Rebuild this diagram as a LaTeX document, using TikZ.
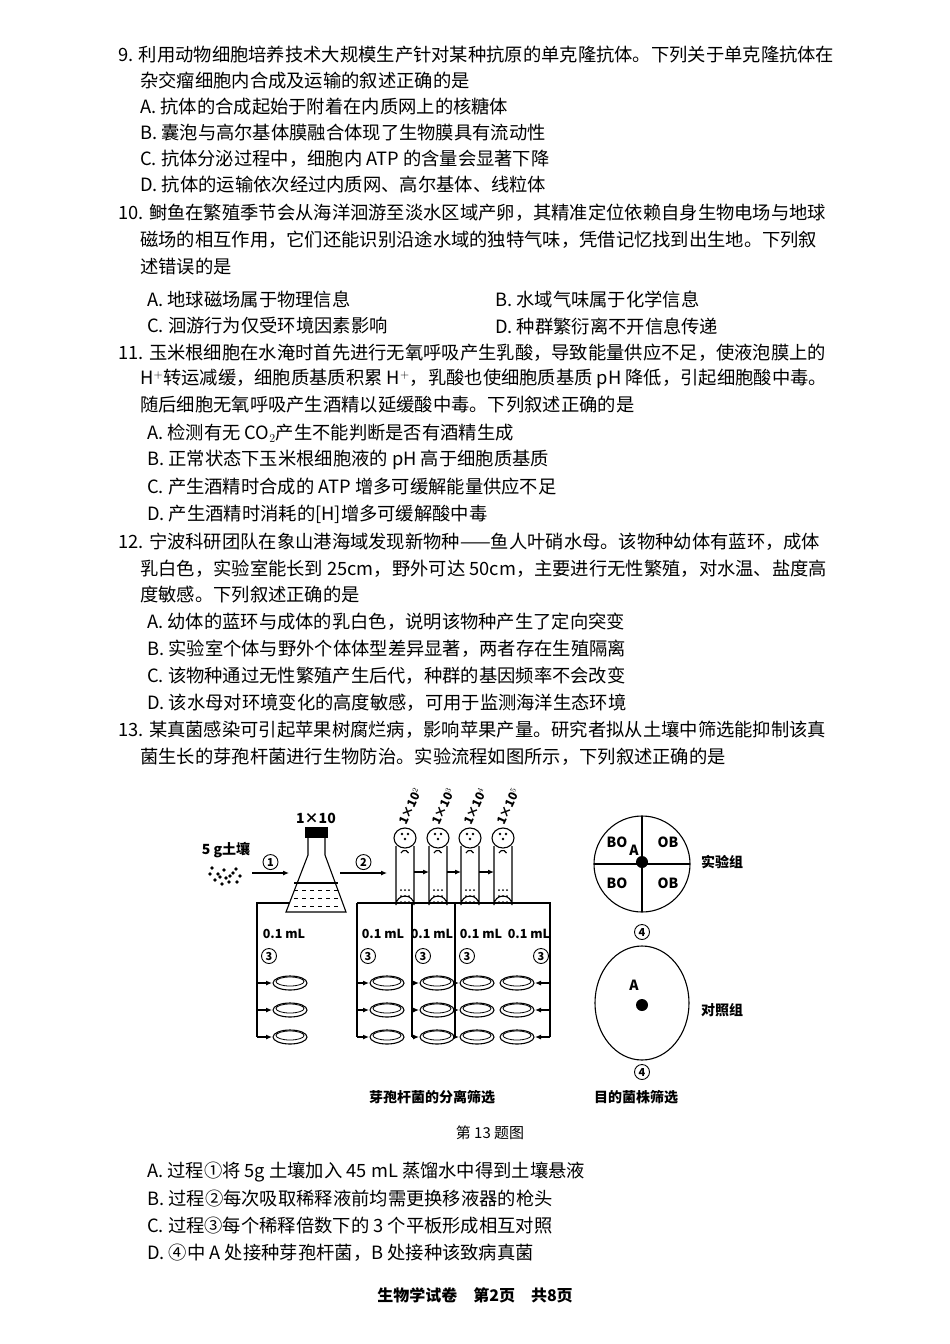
\documentclass[tikz,border=0pt]{standalone}
\usepackage{fontspec}
\setmainfont{Noto Sans CJK SC}
\usetikzlibrary{arrows.meta}
\tikzset{
  txt/.style={anchor=west, inner sep=0, font=\fontsize{18.3}{20}\selectfont},
  lb/.style={inner sep=0, font=\fontsize{14}{15}\selectfont\bfseries},
  cnum/.style={circle, draw, line width=0.9pt, inner sep=0.8pt, minimum size=15pt, font=\fontsize{11}{11}\selectfont\bfseries},
  plate/.style={draw, line width=1.1pt, x radius=17, y radius=7},
  ln/.style={line width=1.1pt},
  ar/.style={ln, -{Latex[length=6pt,width=5pt]}}
}
\begin{document}
\begin{tikzpicture}[x=1pt, y=-1pt]
\useasboundingbox (0,0) rectangle (950,1344);
% question text
\node[txt] (q9a) at (118,55) {9. 利用动物细胞培养技术大规模生产针对某种抗原的单克隆抗体。下列关于单克隆抗体在};
\node[txt] (q9b) at (140,81) {杂交瘤细胞内合成及运输的叙述正确的是};
\node[txt] (q9c) at (140,107) {A. 抗体的合成起始于附着在内质网上的核糖体};
\node[txt] (q9d) at (140,133) {B. 囊泡与高尔基体膜融合体现了生物膜具有流动性};
\node[txt] (q9e) at (140,159) {C. 抗体分泌过程中，细胞内 ATP 的含量会显著下降};
\node[txt] (q9f) at (140,185) {D. 抗体的运输依次经过内质网、高尔基体、线粒体};
\node[txt] (q10a) at (118,213) {10. 鲥鱼在繁殖季节会从海洋洄游至淡水区域产卵，其精准定位依赖自身生物电场与地球};
\node[txt] (q10b) at (140,240) {磁场的相互作用，它们还能识别沿途水域的独特气味，凭借记忆找到出生地。下列叙};
\node[txt] (q10c) at (140,267) {述错误的是};
\node[txt] (q10d) at (147,299) {A. 地球磁场属于物理信息};
\node[txt] (q10e) at (495,299) {B. 水域气味属于化学信息};
\node[txt] (q10f) at (147,326) {C. 洄游行为仅受环境因素影响};
\node[txt] (q10g) at (495,326) {D. 种群繁衍离不开信息传递};
\node[txt] (q11a) at (118,353) {11. 玉米根细胞在水淹时首先进行无氧呼吸产生乳酸，导致能量供应不足，使液泡膜上的};
\node[txt] (q11b) at (140,379) {H$^+$转运减缓，细胞质基质积累 H$^+$，乳酸也使细胞质基质 pH 降低，引起细胞酸中毒。};
\node[txt] (q11c) at (140,405) {随后细胞无氧呼吸产生酒精以延缓酸中毒。下列叙述正确的是};
\node[txt] (q11d) at (147,433) {A. 检测有无 CO$_2$产生不能判断是否有酒精生成};
\node[txt] (q11e) at (147,460) {B. 正常状态下玉米根细胞液的 pH 高于细胞质基质};
\node[txt] (q11f) at (147,487) {C. 产生酒精时合成的 ATP 增多可缓解能量供应不足};
\node[txt] (q11g) at (147,514) {D. 产生酒精时消耗的[H]增多可缓解酸中毒};
\node[txt] (q12a) at (118,542) {12. 宁波科研团队在象山港海域发现新物种——鱼人叶硝水母。该物种幼体有蓝环，成体};
\node[txt] (q12b) at (140,569) {乳白色，实验室能长到 25cm，野外可达 50cm，主要进行无性繁殖，对水温、盐度高};
\node[txt] (q12c) at (140,595) {度敏感。下列叙述正确的是};
\node[txt] (q12d) at (147,622) {A. 幼体的蓝环与成体的乳白色，说明该物种产生了定向突变};
\node[txt] (q12e) at (147,649) {B. 实验室个体与野外个体体型差异显著，两者存在生殖隔离};
\node[txt] (q12f) at (147,676) {C. 该物种通过无性繁殖产生后代，种群的基因频率不会改变};
\node[txt] (q12g) at (147,703) {D. 该水母对环境变化的高度敏感，可用于监测海洋生态环境};
\node[txt] (q13a) at (118,730) {13. 某真菌感染可引起苹果树腐烂病，影响苹果产量。研究者拟从土壤中筛选能抑制该真};
\node[txt] (q13b) at (140,757) {菌生长的芽孢杆菌进行生物防治。实验流程如图所示，下列叙述正确的是};
% soil and flask
\node[lb] (soil) at (226,850) {5 g土壤};
\foreach \i/\j in {212/868,218/874,224/870,230/876,236/869,215/880,222/884,229/882,237/882,220/877,233/873,226/878,240/876,210/874}
  \fill (\i,\j) circle (1.8);
\node[lb] (flaskTxt) at (316,818) {1×10};
\fill (305,827) rectangle (328,838);
\draw[ln] (308,838) -- (308,855) -- (286,912) -- (346,912) -- (325,855) -- (325,838);
\foreach \j in {890,898,906}
  \foreach \i in {294,302,...,338} \draw[line width=0.8pt] (\i,\j) -- (\i+4,\j);
\draw[ln] (294,883) -- (338,883);
\coordinate (soilR) at (252,873);
\coordinate (flaskL) at (289,873);
\draw[ar] (soilR) -- node[above=3pt, cnum] {1} (flaskL);
\coordinate (flaskR) at (340,873);
\coordinate (tubeL) at (387,873);
\draw[ar] (flaskR) -- node[above=3pt, cnum] {2} (tubeL);
% tubes
\foreach \x/\e [count=\k] in {405/2,438/3,470/4,503/5} {
  \draw[ln, fill=white] (\x-9,846) -- (\x-9,905) arc (180:360:9) -- (\x+9,846);
  \draw[ln, fill=white] (\x,838) ellipse (11 and 10);
  \fill (\x-3,834) circle (1.4) (\x+3,834) circle (1.4) (\x,839) circle (1.4);
  \draw[ln] (\x-4,853) arc (200:340:4);
  \foreach \j in {890,896,902} \foreach \i in {-4,0,4} \fill (\x+\i,\j) circle (1);
  \node[lb, font=\fontsize{12}{13}\selectfont\bfseries, rotate=65, anchor=west] (dil\k) at (\x-3,824) {1×10$^{\e}$};
}
\foreach \a/\b in {414/429,447/461,479/494} \draw[ar] (\a,872) -- (\b,872);
% transfer lines
\draw[ln] (290,903) -- (257,903) -- (257,1037);
\draw[ln] (357,903) -- (357,1037);
\draw[ln] (412,903) -- (412,1037);
\draw[ln] (455,903) -- (455,1037);
\draw[ln] (357,903) -- (550,903) -- (550,1037);
\foreach \y in {983,1010,1037} {
  \draw[ar] (257,\y) -- (272,\y);
  \draw[ar] (357,\y) -- (369,\y);
  \draw[ar] (412,\y) -- (419,\y);
  \draw[ar] (455,\y) -- (459,\y);
  \draw[ar] (550,\y) -- (535,\y);
  \foreach \x in {290,387,437,477,517} {
    \draw[plate] (\x,\y) ellipse [];
    \draw[line width=0.8pt] (\x,\y-1.5) ellipse (14 and 4.5);
  }
}
\foreach \x in {284,383,432,481,529} \node[lb, font=\fontsize{12.5}{13}\selectfont\bfseries] at (\x,934) {0.1 mL};
\foreach \x in {269,368,423,467,541} \node[cnum] at (\x,956) {3};
\node[lb] (capL) at (432,1097) {芽孢杆菌的分离筛选};
% plates with target strains
\draw[ln] (642,864) circle (48);
\draw[ln] (594,864) -- (690,864) (642,816) -- (642,912);
\fill (642,862) circle (6);
\node[lb] at (617,842) {BO};
\node[lb] at (634,850) {A};
\node[lb] at (668,842) {OB};
\node[lb] at (617,883) {BO};
\node[lb] at (668,883) {OB};
\node[lb] (expG) at (722,862) {实验组};
\node[cnum] at (642,932) {4};
\draw[ln] (642,1003) ellipse (47 and 57);
\fill (642,1005) circle (6);
\node[lb] at (634,985) {A};
\node[lb] (ctrlG) at (722,1010) {对照组};
\node[cnum] at (642,1072) {4};
\node[lb] (capR) at (636,1097) {目的菌株筛选};
\node[lb, font=\fontsize{15}{16}\selectfont] (fig) at (490,1133) {第 13 题图};
% options of 13
\node[txt] (q13c) at (147,1172) {A. 过程①将 5g 土壤加入 45 mL 蒸馏水中得到土壤悬液};
\node[txt] (q13d) at (147,1199) {B. 过程②每次吸取稀释液前均需更换移液器的枪头};
\node[txt] (q13e) at (147,1226) {C. 过程③每个稀释倍数下的 3 个平板形成相互对照};
\node[txt] (q13f) at (147,1253) {D. ④中 A 处接种芽孢杆菌，B 处接种该致病真菌};
\node[lb, font=\fontsize{16}{17}\selectfont\bfseries] (foot) at (475,1295) {生物学试卷\quad 第2页\quad 共8页};
\end{tikzpicture}
\end{document}
